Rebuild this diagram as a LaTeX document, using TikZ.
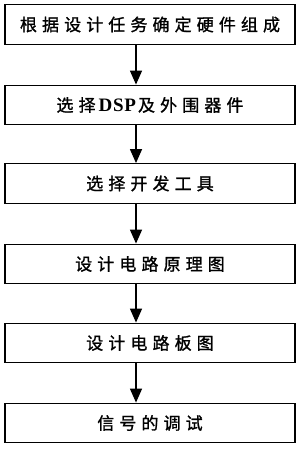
\documentclass[tikz,border=0pt]{standalone}
\usepackage{fontspec}
\usetikzlibrary{arrows.meta}
\newfontfamily\cjk[LetterSpace=30,FakeBold=1.2]{Noto Sans CJK SC}
\newfontfamily\latinb[LetterSpace=4]{Liberation Serif}
\begin{document}
\begin{tikzpicture}[x=1pt,y=-1pt,
  box/.style={draw, line width=1.3pt, minimum width=290pt, minimum height=39.5pt, inner sep=0pt, font=\cjk\fontsize{17}{18}\selectfont},
  arr/.style={line width=1.3pt, -{Triangle[length=14pt,width=12pt]}}]
\useasboundingbox (0,0) rectangle (300,449);
\node[box] (b1) at (150,24.5) {根据设计任务确定硬件组成};
\node[box] (b2) at (150,105) {选择\hspace{3pt}{\latinb\bfseries\fontsize{19}{20}\selectfont DSP}\hspace{2pt}及外围器件};
\node[box] (b3) at (150,183.5) {选择开发工具};
\node[box] (b4) at (150,264) {设计电路原理图};
\node[box] (b5) at (150,343) {设计电路板图};
\node[box] (b6) at (150,423) {信号的调试};
\coordinate (ax) at (136,0);
\draw[arr] (b1.south -| ax) -- (b2.north -| ax);
\draw[arr] (b2.south -| ax) -- (b3.north -| ax);
\draw[arr] (b3.south -| ax) -- (b4.north -| ax);
\draw[arr] (b4.south -| ax) -- (b5.north -| ax);
\draw[arr] (b5.south -| ax) -- (b6.north -| ax);
\end{tikzpicture}
\end{document}
